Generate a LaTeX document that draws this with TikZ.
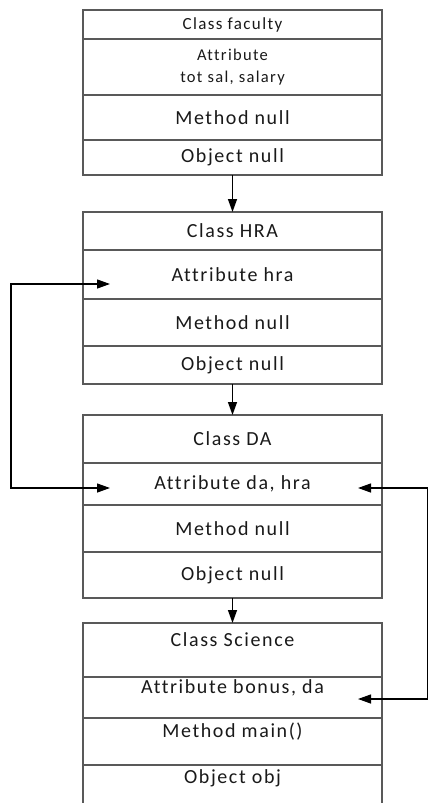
\documentclass[tikz,border=0pt]{standalone}
\usepackage{fontspec}
\setmainfont{Carlito}
\newfontfamily\cellfont[LetterSpace=8,Ligatures=NoCommon]{Carlito}
\usetikzlibrary{arrows.meta}

\begin{document}
\begin{tikzpicture}[x=1pt,y=-1pt]
\useasboundingbox (0,0) rectangle (429,803);
\begin{scope}[every node/.style={draw=black!65,line width=1.2pt,minimum width=299pt,
                                 inner sep=0pt,outer sep=0pt,align=center,
                                 text=black!90,font=\cellfont\fontsize{20}{24}\selectfont}]
    % class faculty
    \node[minimum height=29pt,font=\cellfont\fontsize{17}{20}\selectfont] (f1) at (232.5,24.5) {Class faculty};
    \node[minimum height=56pt,font=\cellfont\fontsize{16.5}{22}\selectfont] (f2) at (232.5,67) {Attribute\\tot sal, salary};
    \node[minimum height=45pt] (f3) at (232.5,117.5) {Method null};
    \node[minimum height=35pt] (f4) at (232.5,157.5) {Object null};
    % class HRA
    \node[minimum height=38pt] (h1) at (232.5,231) {Class HRA};
    \node[minimum height=49pt] (h2) at (232.5,274.5) {Attribute hra};
    \node[minimum height=47pt] (h3) at (232.5,322.5) {Method null};
    \node[minimum height=38pt] (h4) at (232.5,365) {Object null};
    % class DA
    \node[minimum height=48pt] (d1) at (232.5,439) {Class DA};
    \node[minimum height=42pt] (d2) at (232.5,484) {Attribute da, hra};
    \node[minimum height=47pt] (d3) at (232.5,528.5) {Method null};
    \node[minimum height=46pt] (d4) at (232.5,575) {Object null};
    % class Science
    \node[minimum height=54pt,text depth=20pt] (s1) at (232.5,650) {Class Science};
    \node[minimum height=41pt,text depth=22pt] (s2) at (232.5,697.5) {Attribute bonus, da};
    \node[minimum height=47pt,text depth=22pt] (s3) at (232.5,741.5) {Method main()};
    \node[minimum height=55pt,text depth=32pt] (s4) at (232.5,792.5) {Object obj};
\end{scope}

\coordinate (hraL) at (110,284);
\coordinate (daL) at (110,488);
\coordinate (bendL) at (11,488);
\coordinate (daR) at (358,488);
\coordinate (bonR) at (358,699);
\coordinate (bendR) at (427.5,699);

\begin{scope}[>={Triangle[length=13pt,width=9pt]},line width=1.3pt]
    \path [->] (f4) edge (h1);
    \path [->] (h4) edge (d1);
    \path [->] (d4) edge (s1);
    \draw [<->] (hraL) -| (bendL) -- (daL);
    \draw [<->] (daR) -| (bendR) -- (bonR);
\end{scope}
\end{tikzpicture}
\end{document}
